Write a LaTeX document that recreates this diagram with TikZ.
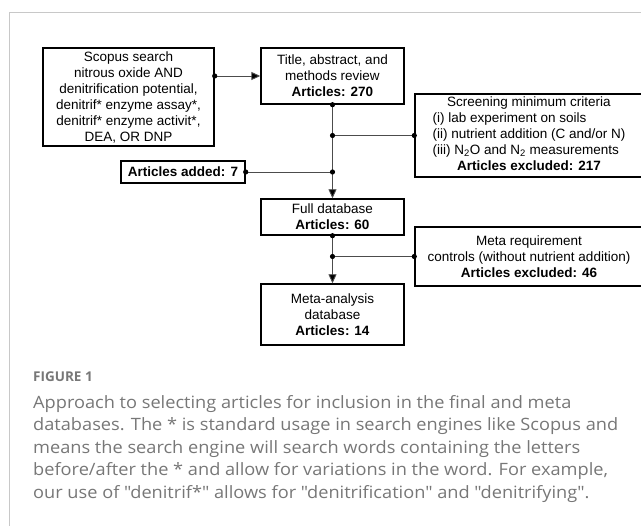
\documentclass[tikz,border=0pt]{standalone}
\usepackage{fontspec}
\setmainfont{Liberation Sans}
\newfontfamily\capfont[FakeStretch=1.07]{Open Sans}
\newfontfamily\labfont{Open Sans}
\usetikzlibrary{arrows.meta}
\definecolor{framegray}{HTML}{C8C8C8}
\definecolor{capgray}{HTML}{777777}

\begin{document}
\begin{tikzpicture}[x=1pt, y=-1pt,
                    box/.style={draw=black, line width=1.4pt, inner sep=0pt, align=center,
                                font=\fontsize{13.5}{16}\selectfont},
                    link/.style={draw=black!70, line width=0.9pt},
                    flow/.style={link, -{Triangle[length=9pt, width=8pt, fill=black]}},
                    capstyle/.style={inner sep=0pt, align=left, text=capgray}]

    \useasboundingbox (0,0) rectangle (641,526);
    \draw[framegray, line width=1.3pt] (9.5,526) -- (9.5,12.5) -- (641,12.5);

    \node[box, minimum width=171pt, minimum height=98pt] (scopus) at (128.5,97)
        {Scopus search\\nitrous oxide AND\\denitrification potential,\\denitrif* enzyme assay*,\\denitrif* enzyme activit*,\\DEA, OR DNP};
    \node[box, minimum width=143pt, minimum height=56pt] (title) at (332.5,76)
        {Title, abstract, and\\methods review\\\textbf{Articles: 270}};
    \node[box, minimum width=228pt, minimum height=83pt] (screen) at (529,135.5)
        {\begin{tabular}{@{}l@{}}
         \multicolumn{1}{@{}c@{}}{Screening minimum criteria}\\
         (i) lab experiment on soils\\
         (ii) nutrient addition (C and/or N)\\
         (iii) N\textsubscript{2}O and N\textsubscript{2} measurements\\
         \multicolumn{1}{@{}c@{}}{\textbf{Articles excluded: 217}}
         \end{tabular}};
    \node[box, minimum width=124pt, minimum height=22pt] (added) at (183,172)
        {\textbf{Articles added: 7}};
    \node[box, minimum width=143pt, minimum height=36pt] (full) at (332.5,217)
        {Full database\\\textbf{Articles: 60}};
    \node[box, minimum width=228pt, minimum height=59pt] (metareq) at (529,256.5)
        {Meta requirement\\controls (without nutrient addition)\\\textbf{Articles excluded: 46}};
    \node[box, minimum width=143pt, minimum height=61pt] (meta) at (332.5,314.5)
        {Meta-analysis\\database\\\textbf{Articles: 14}};

    % junctions on the main line
    \coordinate (s1) at (title.west -| scopus.east);
    \coordinate (j1) at (title.south |- screen.west);
    \coordinate (j2) at (title.south |- added.east);
    \coordinate (j3) at (full.south |- metareq.west);

    \draw[flow] (s1) -- (title.west);
    \draw[flow] (title.south) -- (full.north);
    \draw[link] (j1) -- (screen.west);
    \draw[link] (added.east) -- (j2);
    \draw[flow] (full.south) -- (meta.north);
    \draw[link] (j3) -- (metareq.west);

    \foreach \p in {s1, title.south, j1, screen.west, j2, added.east, full.south, j3, metareq.west}
        \fill (\p) circle[radius=2.6pt];

    % caption
    \node[capstyle, anchor=base west, font=\labfont\bfseries\fontsize{13.5}{15}\selectfont] (figlabel) at (33,382) {FIGURE 1};
    \node[capstyle, anchor=north west, font=\capfont\fontsize{17}{22.5}\selectfont] (caption) at (33,395)
        {Approach to selecting articles for inclusion in the final and meta\\
         databases. The * is standard usage in search engines like Scopus and\\
         means the search engine will search words containing the letters\\
         before/after the * and allow for variations in the word. For example,\\
         our use of "denitrif*" allows for "denitrification" and "denitrifying".};
\end{tikzpicture}
\end{document}
